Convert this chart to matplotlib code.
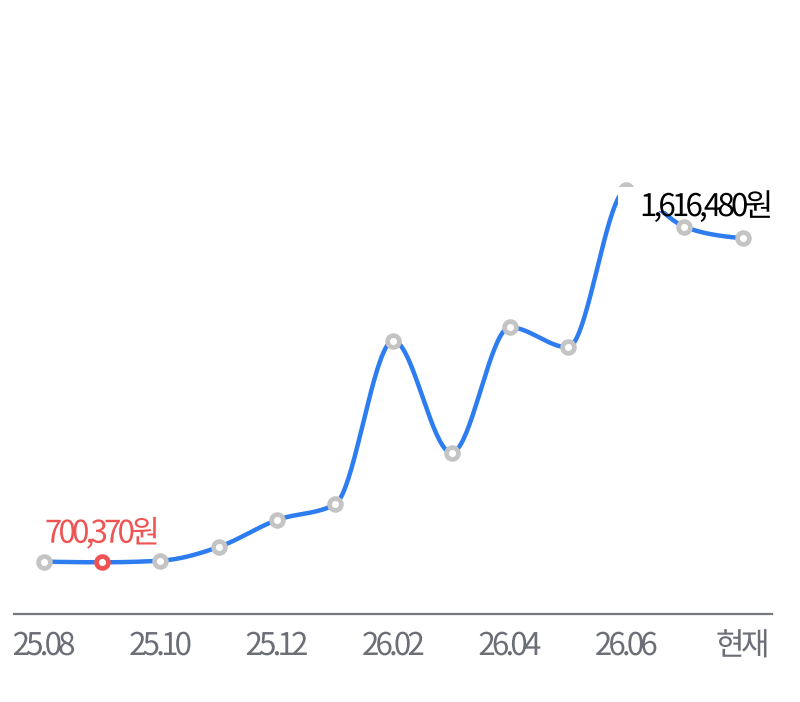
import numpy as np
import matplotlib
matplotlib.use('Agg')
import matplotlib.pyplot as plt
import matplotlib.patches as mpatches
import matplotlib.transforms as mtransforms
from matplotlib.path import Path
from matplotlib.patheffects import AbstractPathEffect
from matplotlib.font_manager import FontProperties, findfont
from matplotlib.ft2font import FT2Font, LoadFlags

plt.rcParams['font.family'] = ['Noto Sans CJK KR', 'DejaVu Sans']

months = ['25.08', '25.09', '25.10', '25.11', '25.12', '26.01', '26.02',
          '26.03', '26.04', '26.05', '26.06', '26.07', '현재']
prices = [701850, 700370, 704310, 738020, 804470, 843110, 1245700,
          970090, 1278710, 1229480, 1616480, 1526280, 1497730]
tick_labels = ['25.08', '', '25.10', '', '25.12', '', '26.02',
               '', '26.04', '', '26.06', '', '현재']

BLUE = '#2d7cf0'
RING = '#c4c4c4'
RED = '#ef5353'
AXIS = '#76787e'
TICK = '#6b6e76'
FS = 22.5
TRACK = -3.8  # px letter spacing, the original is set very tight

FONT_PATH = findfont(FontProperties(family='Noto Sans CJK KR'))


class Track(AbstractPathEffect):
    # moves each glyph of a text path closer together (negative letter spacing)
    def __init__(self, s, track, ha='center'):
        super().__init__()
        f = FT2Font(FONT_PATH, hinting_factor=1)
        f.set_size(100, 72)  # same units as text2path (1 em = 100)
        adv = [f.load_char(ord(c), flags=LoadFlags.NO_HINTING).linearHoriAdvance / 65536
               for c in s]
        self.edges = np.cumsum([0] + adv)
        self.n = len(s)
        self.track = track
        self.ha = ha

    def draw_path(self, renderer, gc, tpath, affine, rgbFace=None):
        verts = tpath.vertices.copy()
        codes = tpath.codes
        t = self.track / affine.get_matrix()[0, 0]
        base = {'left': 0, 'center': (self.n - 1) * t / 2, 'right': (self.n - 1) * t}[self.ha]
        starts = list(np.nonzero(codes == Path.MOVETO)[0]) + [len(codes)]
        for a, b in zip(starts[:-1], starts[1:]):
            keep = codes[a:b] != Path.CLOSEPOLY
            xs = verts[a:b][keep, 0]
            if len(xs) == 0:
                continue
            mid = (xs.min() + xs.max()) / 2
            k = int(np.clip(np.searchsorted(self.edges, mid) - 1, 0, self.n - 1))
            verts[a:b, 0] += k * t - base
        renderer.draw_path(gc, Path(verts, codes), affine, rgbFace)


def monotone(x, y, n=40):
    # d3 curveMonotoneX style interpolation
    x = np.asarray(x, float)
    y = np.asarray(y, float)
    h = np.diff(x)
    s = np.diff(y) / h
    t = np.zeros_like(y)
    for i in range(1, len(y) - 1):
        p = (s[i - 1] * h[i] + s[i] * h[i - 1]) / (h[i - 1] + h[i])
        t[i] = (np.sign(s[i - 1]) + np.sign(s[i])) * min(abs(s[i - 1]), abs(s[i]), 0.5 * abs(p))
    t[0] = (3 * s[0] - t[1]) / 2
    t[-1] = (3 * s[-1] - t[-2]) / 2
    xs, ys = [], []
    for i in range(len(h)):
        u = np.linspace(0, 1, n)
        h00 = 2 * u**3 - 3 * u**2 + 1
        h10 = u**3 - 2 * u**2 + u
        h01 = -2 * u**3 + 3 * u**2
        h11 = u**3 - u**2
        xs.append(x[i] + u * h[i])
        ys.append(h00 * y[i] + h10 * h[i] * t[i] + h01 * y[i + 1] + h11 * h[i] * t[i + 1])
    return np.concatenate(xs), np.concatenate(ys)


fig = plt.figure(figsize=(8, 7.02), dpi=100)
fig.patch.set_facecolor('white')
W, H = 800, 702
ax = fig.add_axes([14 / W, (H - 613.5) / H, 758 / W, 613.5 / H])

idx = np.arange(len(months))
cx, cy = monotone(idx, prices)
ax.plot(cx, cy, color=BLUE, lw=3.2, solid_capstyle='round', zorder=2)

imin = int(np.argmin(prices))
imax = int(np.argmax(prices))
for i, v in enumerate(prices):
    ec = RED if i == imin else RING
    ax.plot(i, v, 'o', ms=8.5, mew=3.4, mfc='white', mec=ec, zorder=3)

ax.set_xlim(-0.515, 12.503)
ax.set_ylim(574370, 2084190)

for s in ['top', 'right', 'left']:
    ax.spines[s].set_visible(False)
ax.spines['bottom'].set_color(AXIS)
ax.spines['bottom'].set_linewidth(1.6)
ax.set_xticks([])
ax.set_yticks([])

trans = mtransforms.blended_transform_factory(ax.transData, ax.transAxes)
for i, lab in enumerate(tick_labels):
    if lab:
        ax.text(i, -0.0676, lab, transform=trans, ha='center', va='baseline',
                fontsize=FS, color=TICK, path_effects=[Track(lab, TRACK)])

# min label
min_txt = f'{prices[imin]:,}원'
ax.annotate(min_txt, (imin, prices[imin]), xytext=(0, 19.6),
            textcoords='offset pixels', ha='center', va='baseline',
            fontsize=FS, color=RED, zorder=5, path_effects=[Track(min_txt, TRACK)])

# max label with white backing
max_txt = f'{prices[imax]:,}원'
box_t = mtransforms.ScaledTranslation(imax, prices[imax], ax.transData)
ax.add_patch(mpatches.Rectangle((-8, -21), 170, 24, transform=box_t,
                                facecolor='white', edgecolor='none', zorder=4))
ax.annotate(max_txt, (imax, prices[imax]), xytext=(147, -26),
            textcoords='offset pixels', ha='right', va='baseline',
            fontsize=FS, color='black', zorder=5,
            path_effects=[Track(max_txt, TRACK, 'right')])

fig.savefig('out.png', dpi=100, facecolor='white')
